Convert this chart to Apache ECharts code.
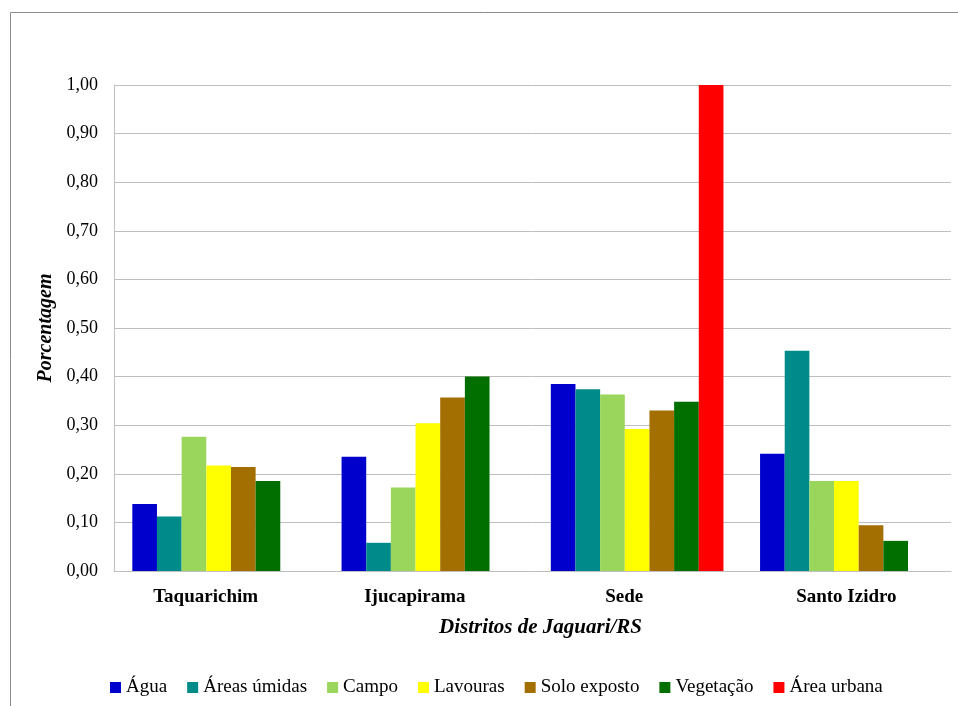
<!DOCTYPE html>
<html>
<head>
<meta charset="utf-8">
<script src="https://cdn.jsdelivr.net/npm/echarts@6/dist/echarts.min.js"></script>
<style>
  html, body { margin: 0; padding: 0; background: #fff; }
  #chart { width: 958px; height: 706px; }
</style>
</head>
<body>
<div id="chart"></div>
<script>
// Districts of Jaguari/RS
const districts = ['Taquarichim', 'Ijucapirama', 'Sede', 'Santo Izidro'];

// Land-cover classes and their colours
const classNames = ['Água', 'Áreas úmidas', 'Campo', 'Lavouras', 'Solo exposto', 'Vegetação', 'Área urbana'];
const classColors = ['#0000CC', '#008B8B', '#9BD65C', '#FFFF00', '#A36F00', '#006F00', '#FF0000'];

// Share of each class per district (Taquarichim, Ijucapirama, Sede, Santo Izidro)
const agua        = [0.138, 0.235, 0.385, 0.241];
const areasUmidas = [0.112, 0.058, 0.374, 0.453];
const campo       = [0.276, 0.172, 0.363, 0.185];
const lavouras    = [0.217, 0.304, 0.292, 0.185];
const soloExposto = [0.214, 0.357, 0.330, 0.094];
const vegetacao   = [0.185, 0.400, 0.348, 0.062];
const areaUrbana  = [null, null, 1.00, null];

const yTicks = [0, 0.1, 0.2, 0.3, 0.4, 0.5, 0.6, 0.7, 0.8, 0.9, 1.0];

const seriesValues = [agua, areasUmidas, campo, lavouras, soloExposto, vegetacao, areaUrbana];

const font = '"Liberation Serif", "Times New Roman", serif';

// Category labels sit slightly left of the slot centre, except the last one
const labelPadRight = [26, 26, 26, 0];
const categoryData = districts.map((d, i) => ({
  value: d,
  textStyle: { padding: [0, labelPadRight[i], 0, 0] }
}));

const chart = echarts.init(document.getElementById('chart'), null, { renderer: 'canvas' });

chart.setOption({
  backgroundColor: '#ffffff',
  animation: false,
  textStyle: { fontFamily: font },
  graphic: [{
    type: 'rect',
    shape: { x: 10.5, y: 12.5, width: 960, height: 720 },
    style: { fill: 'none', stroke: '#8c8c8c', lineWidth: 1 },
    silent: true
  }],
  grid: { left: 114, right: 7, top: 85, bottom: 135 },
  legend: {
    top: 673,
    left: 105,
    itemWidth: 11,
    itemHeight: 11,
    itemGap: 20,
    icon: 'rect',
    textStyle: { fontFamily: font, fontSize: 19, color: '#000' },
    data: classNames
  },
  xAxis: {
    type: 'category',
    data: categoryData,
    name: 'Distritos de Jaguari/RS',
    nameLocation: 'middle',
    nameGap: 46,
    nameTextStyle: { fontFamily: font, fontSize: 21, fontStyle: 'italic', fontWeight: 'bold', color: '#000', padding: [0, 0, 0, 16] },
    axisLine: { show: true, lineStyle: { color: '#bfbfbf', width: 1 } },
    axisTick: { show: false },
    axisLabel: { fontFamily: font, fontSize: 19, fontWeight: 'bold', color: '#000', margin: 17 }
  },
  yAxis: {
    type: 'value',
    min: yTicks[0],
    max: yTicks[yTicks.length - 1],
    interval: 0.1,
    name: 'Porcentagem',
    nameLocation: 'middle',
    nameGap: 47,
    nameRotate: 90,
    nameTextStyle: { fontFamily: font, fontSize: 20, fontStyle: 'italic', fontWeight: 'bold', color: '#000' },
    axisLine: { show: true, lineStyle: { color: '#bfbfbf', width: 1 } },
    axisTick: { show: false },
    splitLine: { show: true, lineStyle: { color: '#bfbfbf', width: 1 } },
    axisLabel: {
      fontFamily: font, fontSize: 18, color: '#000', margin: 16,
      formatter: v => v.toFixed(2).replace('.', ',')
    }
  },
  series: seriesValues.map((vals, i) => ({
    name: classNames[i],
    type: 'bar',
    data: vals,
    barGap: '0%',
    barCategoryGap: '17.5%',
    itemStyle: { color: classColors[i] }
  }))
});
</script>
</body>
</html>
